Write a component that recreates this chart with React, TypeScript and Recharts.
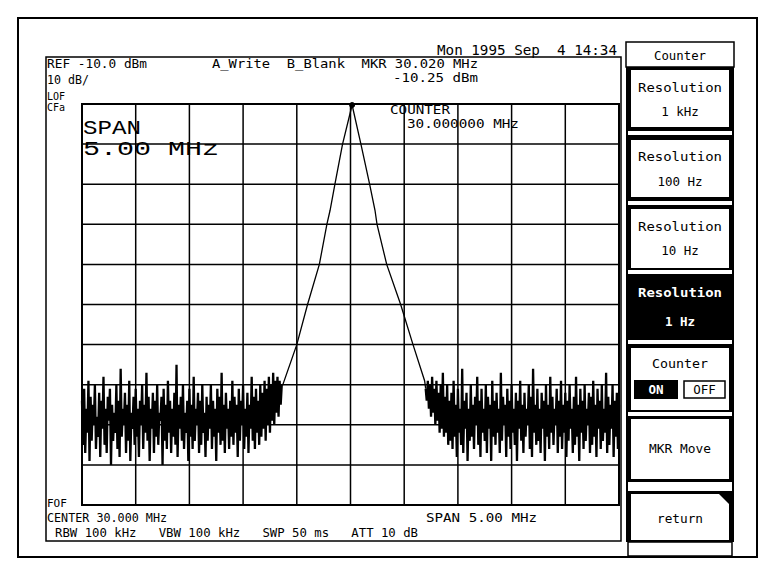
import { LineChart, Line, XAxis, YAxis, CartesianGrid, ReferenceDot, ReferenceArea } from 'recharts'

// sweep grid of the analyzer
const freqTicks = [27.5, 28, 28.5, 29, 29.5, 30, 30.5, 31, 31.5, 32, 32.5]
const levelTicks = [-110, -100, -90, -80, -70, -60, -50, -40, -30, -20, -10]
const sweepStepMHz = 0.01
const leftNoiseStartMHz = 27.5
const rightNoiseStartMHz = 30.7

// noise floor left of the carrier, dBm per sweep point
const leftNoiseDbm = [
  -84, -95, -81, -97, -86, -92, -79, -99, -83, -94, -85, -90, -80, -96, -88, -93, -82, -98, -84, -91,
  -78, -95, -86, -97, -83, -89, -81, -100, -85, -94, -87, -92, -80, -96, -84, -98, -76, -93, -86, -90,
  -82, -97, -85, -94, -79, -99, -87, -91, -83, -95, -81, -93, -86, -98, -84, -90, -80, -96, -85, -92,
  -77, -94, -83, -99, -86, -91, -82, -97, -84, -93, -80, -95, -87, -89, -83, -100, -81, -94, -85, -96,
  -79, -92, -84, -97, -86, -93, -82, -95, -75, -98, -85, -91, -83, -94, -80, -96, -87, -92, -84, -99,
  -81, -93, -85, -96, -78, -94, -86, -90, -82, -97, -84, -95, -80, -92, -87, -98, -83, -94, -85, -91,
  -80, -96, -84, -93, -86, -99, -81, -92, -83, -95, -77, -94, -85, -97, -82, -91, -86, -96, -84, -93,
  -79, -95, -83, -92, -85, -98, -81, -94, -84, -90, -80, -96, -86, -93, -82, -97, -85, -91, -78, -94,
  -83, -96, -81, -92, -84, -95, -80, -93, -82, -91, -79, -94, -81, -90, -78, -92, -80, -89, -77, -90,
  -79, -87, -78, -88, -79, -85, -80,
]

// carrier skirt
const skirtMHz = [29.36, 29.37, 29.5, 29.6, 29.71, 29.78, 29.81, 29.855, 29.926, 30.015, 30.097, 30.178, 30.228, 30.247, 30.337, 30.467, 30.582, 30.69, 30.7]
const skirtDbm = [-80, -80, -70, -60, -50, -40, -36.5, -30, -20, -10.25, -20, -30, -36.5, -40, -50, -60, -70, -79, -81]

// noise floor right of the carrier
const rightNoiseDbm = [
  -81, -84, -79, -86, -80, -88, -78, -87, -81, -90, -79, -89, -82, -92, -80, -91, -77, -93, -83, -92, -80, -95, -84, -94, -82,
  -96, -79, -93, -85, -98, -81, -92, -86, -95, -76, -97, -84, -91, -82, -99, -86, -94, -80, -93, -85,
  -96, -83, -90, -78, -95, -84, -98, -81, -92, -86, -94, -80, -97, -83, -91, -85, -99, -79, -93, -84,
  -95, -82, -92, -86, -97, -77, -94, -83, -90, -85, -98, -81, -93, -84, -96, -80, -92, -86, -95, -82,
  -99, -84, -91, -79, -94, -85, -97, -82, -93, -86, -90, -80, -96, -83, -98, -76, -92, -85, -95, -81,
  -94, -86, -97, -82, -91, -84, -99, -80, -93, -85, -96, -78, -92, -83, -95, -86, -90, -81, -97, -84,
  -93, -79, -96, -85, -92, -82, -98, -84, -94, -80, -91, -86, -97, -83, -95, -78, -93, -85, -99, -81,
  -92, -84, -96, -80, -94, -86, -90, -82, -97, -83, -95, -79, -93, -85, -98, -81, -91, -84, -96, -80,
  -94, -86, -92, -77, -97, -83, -95, -85, -91, -80, -98, -84, -93, -82, -96, -85,
]

const markerMHz = 30.015
const markerDbm = -10.25

const headerTexts = ['REF -10.0 dBm', '10 dB/', 'A_Write  B_Blank  MKR 30.020 MHz', '-10.25 dBm', 'Mon 1995 Sep  4 14:34']
const softkeys = ['Resolution', '1 kHz', '100 Hz', '10 Hz', '1 Hz', 'Counter', 'MKR Move', 'return']

const sweepMHz = (start: number, i: number) => Math.round((start + i * sweepStepMHz) * 1000) / 1000

const leftNoise = leftNoiseDbm.map((dbm, i) => ({ f: sweepMHz(leftNoiseStartMHz, i), dbm }))
const skirt = skirtMHz.map((f, i) => ({ f, dbm: skirtDbm[i] }))
const rightNoise = rightNoiseDbm.map((dbm, i) => ({ f: sweepMHz(rightNoiseStartMHz, i), dbm }))

const mono = '"DejaVu Sans Mono", monospace'

function T({ x, y, children, size = 12.5, len, fill = '#000', anchor = 'start', family = mono, weight = 'normal' }: any) {
  return (
    <text
      x={x}
      y={y}
      fontSize={size}
      fontFamily={family}
      fontWeight={weight}
      fill={fill}
      textAnchor={anchor}
      textLength={len}
      lengthAdjust={len ? 'spacingAndGlyphs' : undefined}
      style={{ whiteSpace: 'pre' }}
    >
      {children}
    </text>
  )
}

function Softkeys() {
  const cx = 680
  return (
    <g>
      <rect x={626} y={42} width={108} height={25} fill="#fff" stroke="#000" strokeWidth={1.5} />
      <T x={cx} y={60} anchor="middle" len={52}>{softkeys[5]}</T>
      <rect x={626} y={67} width={108} height={475} fill="#000" />
      {/* buttons */}
      <rect x={631} y={70} width={98} height={57} fill="#fff" />
      <rect x={628} y={131} width={104} height={4} fill="#fff" />
      <rect x={631} y={140} width={98} height={57} fill="#fff" />
      <rect x={628} y={201} width={104} height={4} fill="#fff" />
      <rect x={631} y={209} width={98} height={59} fill="#fff" />
      <rect x={628} y={270} width={104} height={4} fill="#fff" />
      <rect x={628} y={340} width={104} height={4} fill="#fff" />
      <rect x={631} y={348} width={98} height={62} fill="#fff" />
      <rect x={628} y={412} width={104} height={4} fill="#fff" />
      <rect x={631} y={419} width={98} height={60} fill="#fff" />
      <rect x={628} y={482} width={104} height={9} fill="#fff" />
      <polygon points="631,494 719,494 729,504 729,540 631,540" fill="#fff" />
      <rect x={628} y={542} width={104} height={14} fill="#fff" stroke="#000" strokeWidth={1.5} />

      <T x={cx} y={92} anchor="middle" len={84}>{softkeys[0]}</T>
      <T x={cx} y={116} anchor="middle">{softkeys[1]}</T>
      <T x={cx} y={161} anchor="middle" len={84}>{softkeys[0]}</T>
      <T x={cx} y={186} anchor="middle">{softkeys[2]}</T>
      <T x={cx} y={231} anchor="middle" len={84}>{softkeys[0]}</T>
      <T x={cx} y={255} anchor="middle">{softkeys[3]}</T>
      <T x={cx} y={297} anchor="middle" len={84} fill="#fff" weight="bold">{softkeys[0]}</T>
      <T x={cx} y={326} anchor="middle" fill="#fff" weight="bold">{softkeys[4]}</T>
      <T x={cx} y={368} anchor="middle" len={56}>{softkeys[5]}</T>
      <rect x={634} y={380} width={44} height={19} fill="#000" />
      <T x={656} y={394} anchor="middle" fill="#fff" weight="bold">ON</T>
      <rect x={684} y={381} width={41} height={17} fill="#fff" stroke="#000" strokeWidth={1.5} />
      <T x={704.5} y={394} anchor="middle">OFF</T>
      <T x={cx} y={453} anchor="middle" len={62}>{softkeys[6]}</T>
      <T x={cx} y={523} anchor="middle" len={46}>{softkeys[7]}</T>
    </g>
  )
}

export default function App() {
  return (
    <div style={{ position: 'absolute', left: 0, top: 0, width: 776, height: 576, background: '#fff' }}>
      <LineChart
        width={776}
        height={576}
        margin={{ top: 104, right: 157, left: 82, bottom: 71 }}
      >
        <CartesianGrid stroke="#000" strokeWidth={1.5} />
        <XAxis dataKey="f" type="number" domain={[27.5, 32.5]} ticks={freqTicks} hide allowDuplicatedCategory={false} />
        <YAxis type="number" domain={[-110, -10]} ticks={levelTicks} hide />
        <ReferenceArea x1={27.5} x2={32.5} y1={-110} y2={-10} fill="none" stroke="#000" strokeWidth={2} />
        <Line data={leftNoise} type="linear" dataKey="dbm" stroke="#000" strokeWidth={2.3} dot={false} isAnimationActive={false} />
        <Line data={rightNoise} type="linear" dataKey="dbm" stroke="#000" strokeWidth={2.3} dot={false} isAnimationActive={false} />
        <Line data={skirt} type="linear" dataKey="dbm" stroke="#000" strokeWidth={1.3} dot={false} isAnimationActive={false} />
        <ReferenceDot x={markerMHz} y={markerDbm} r={2.5} fill="#000" stroke="#000" />
      </LineChart>

      <svg width={776} height={576} style={{ position: 'absolute', left: 0, top: 0, pointerEvents: 'none' }}>
        <rect x={18} y={18} width={739} height={539} fill="none" stroke="#000" strokeWidth={2} />
        <rect x={46} y={57} width={575} height={484} fill="none" stroke="#000" strokeWidth={1.5} />

        <T x={47} y={68} len={100}>{headerTexts[0]}</T>
        <T x={47} y={84} len={42}>{headerTexts[1]}</T>
        <T x={212} y={68} len={266}>{headerTexts[2]}</T>
        <T x={393} y={82} len={85}>{headerTexts[3]}</T>
        <T x={437} y={55} size={14} len={180}>{headerTexts[4]}</T>
        <T x={47} y={100} size={10}>LOF</T>
        <T x={47} y={111} size={10}>CFa</T>

        <T x={390} y={114} len={60}>COUNTER</T>
        <T x={407} y={128} len={112}>30.000000 MHz</T>
        <T x={83} y={134} size={21} family='"Liberation Mono", monospace' len={58}>SPAN</T>
        <T x={83} y={155} size={21} family='"Liberation Mono", monospace' len={136}>5.00 MHz</T>

        <T x={47} y={507} size={11}>FOF</T>
        <T x={47} y={522} len={120}>CENTER 30.000 MHz</T>
        <T x={426} y={522} len={111}>SPAN 5.00 MHz</T>
        <T x={55} y={537} len={363}>RBW 100 kHz   VBW 100 kHz   SWP 50 ms   ATT 10 dB</T>

        <Softkeys />
      </svg>
    </div>
  )
}
